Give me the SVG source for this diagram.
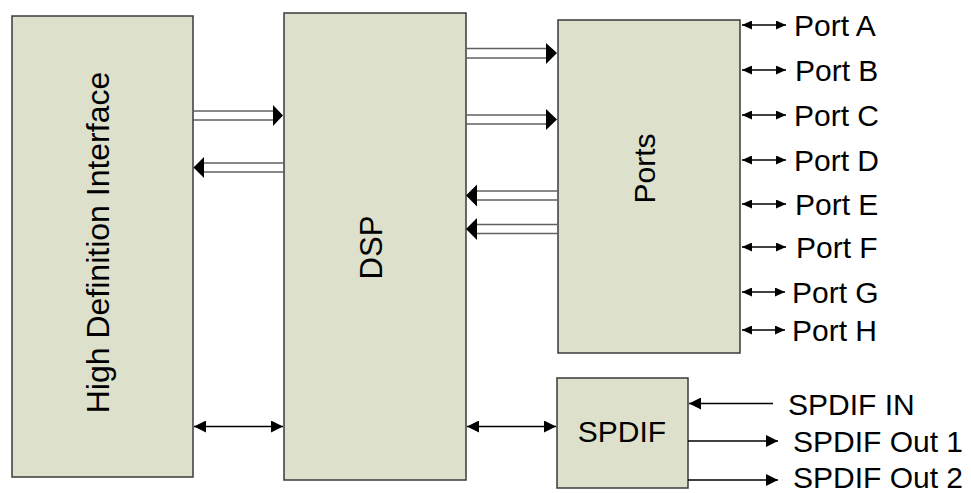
<svg xmlns="http://www.w3.org/2000/svg" width="971" height="493" viewBox="0 0 971 493">
<defs>
<style>
.box{fill:#dde1cc;stroke:#3a3a3a;stroke-width:1.5}
.t{font-family:"Liberation Sans",Arial,sans-serif;fill:#000}
.dl{stroke:#606060;stroke-width:1.6;fill:none}
.head{fill:#000}
.ln{stroke:#000;stroke-width:1.3;fill:none}
.pl{stroke:#000;stroke-width:1.3;fill:none}
</style>
<marker id="ah" viewBox="0 0 12 12" refX="12" refY="6" markerWidth="12" markerHeight="12" markerUnits="userSpaceOnUse" orient="auto-start-reverse">
<path d="M0,0 L12,6 L0,12 Z" fill="#000"/>
</marker>
<marker id="ps" viewBox="0 0 10 9" refX="10" refY="4.5" markerWidth="10" markerHeight="9" markerUnits="userSpaceOnUse" orient="auto-start-reverse">
<path d="M0,0 L10,4.5 L0,9 Z" fill="#000"/>
</marker>
</defs>
<rect width="971" height="493" fill="#fff"/>

<g id="hdi">
<rect class="box" x="12" y="16" width="181" height="461"/>
<text class="t" font-size="32" text-anchor="middle" transform="translate(109,242.5) rotate(-90)">High Definition Interface</text>
</g>
<g id="dsp">
<rect class="box" x="284" y="13" width="182" height="467"/>
<text class="t" font-size="31" text-anchor="middle" transform="translate(382,247.5) rotate(-90)">DSP</text>
</g>
<g id="ports">
<rect class="box" x="558" y="20" width="182" height="333"/>
<text class="t" font-size="30" text-anchor="middle" transform="translate(655,168.5) rotate(-90)">Ports</text>
</g>
<g id="spdif">
<rect class="box" x="557" y="378" width="131" height="110"/>
<text class="t" font-size="30" text-anchor="middle" x="622" y="442">SPDIF</text>
</g>

<g id="connectors">
<line class="dl" x1="193" y1="111" x2="274" y2="111"/>
<line class="dl" x1="193" y1="120" x2="274" y2="120"/>
<polygon class="head" points="273,105 283,115.5 273,126"/>
<line class="dl" x1="203" y1="163" x2="284" y2="163"/>
<line class="dl" x1="203" y1="172" x2="284" y2="172"/>
<polygon class="head" points="204,157 193.5,167.5 204,178"/>
<line class="dl" x1="466" y1="48.5" x2="547" y2="48.5"/>
<line class="dl" x1="466" y1="58" x2="547" y2="58"/>
<polygon class="head" points="546,43 557,53 546,64"/>
<line class="dl" x1="466" y1="115" x2="547" y2="115"/>
<line class="dl" x1="466" y1="124" x2="547" y2="124"/>
<polygon class="head" points="546,109 557,119.5 546,130"/>
<line class="dl" x1="476" y1="191" x2="557" y2="191"/>
<line class="dl" x1="476" y1="200" x2="557" y2="200"/>
<polygon class="head" points="477,184.5 466,195.5 477,206.5"/>
<line class="dl" x1="476" y1="224.5" x2="557" y2="224.5"/>
<line class="dl" x1="476" y1="233.5" x2="557" y2="233.5"/>
<polygon class="head" points="477,218 466,229 477,240"/>
<line class="ln" x1="194" y1="426.5" x2="283" y2="426.5" marker-start="url(#ah)" marker-end="url(#ah)"/>
<line class="ln" x1="467" y1="426.5" x2="556" y2="426.5" marker-start="url(#ah)" marker-end="url(#ah)"/>
<line class="ln" x1="773" y1="403.5" x2="689" y2="403.5" marker-end="url(#ah)"/>
<line class="ln" x1="688" y1="441" x2="778" y2="441" marker-end="url(#ah)"/>
<line class="ln" x1="688" y1="480" x2="778" y2="480" marker-end="url(#ah)"/>
<line class="pl" x1="742" y1="25" x2="786" y2="25" marker-start="url(#ps)" marker-end="url(#ps)"/>
<line class="pl" x1="742" y1="70" x2="786" y2="70" marker-start="url(#ps)" marker-end="url(#ps)"/>
<line class="pl" x1="742" y1="115" x2="786" y2="115" marker-start="url(#ps)" marker-end="url(#ps)"/>
<line class="pl" x1="742" y1="160" x2="786" y2="160" marker-start="url(#ps)" marker-end="url(#ps)"/>
<line class="pl" x1="742" y1="204" x2="786" y2="204" marker-start="url(#ps)" marker-end="url(#ps)"/>
<line class="pl" x1="742" y1="247" x2="786" y2="247" marker-start="url(#ps)" marker-end="url(#ps)"/>
<line class="pl" x1="742" y1="292" x2="785" y2="292" marker-start="url(#ps)" marker-end="url(#ps)"/>
<line class="pl" x1="742" y1="330" x2="785" y2="330" marker-start="url(#ps)" marker-end="url(#ps)"/>
</g>

<g id="labels">
<text class="t" font-size="30" x="794" y="35.5">Port A</text>
<text class="t" font-size="30" x="795" y="80.5">Port B</text>
<text class="t" font-size="30" x="794" y="125.5">Port C</text>
<text class="t" font-size="30" x="794" y="170.5">Port D</text>
<text class="t" font-size="30" x="795" y="214.5">Port E</text>
<text class="t" font-size="30" x="796" y="257.5">Port F</text>
<text class="t" font-size="30" x="792" y="302.5">Port G</text>
<text class="t" font-size="30" x="792" y="340.5">Port H</text>
<text class="t" font-size="30" x="788" y="415">SPDIF IN</text>
<text class="t" font-size="30" x="793" y="452">SPDIF Out 1</text>
<text class="t" font-size="30" x="793" y="488">SPDIF Out 2</text>
</g>
</svg>
